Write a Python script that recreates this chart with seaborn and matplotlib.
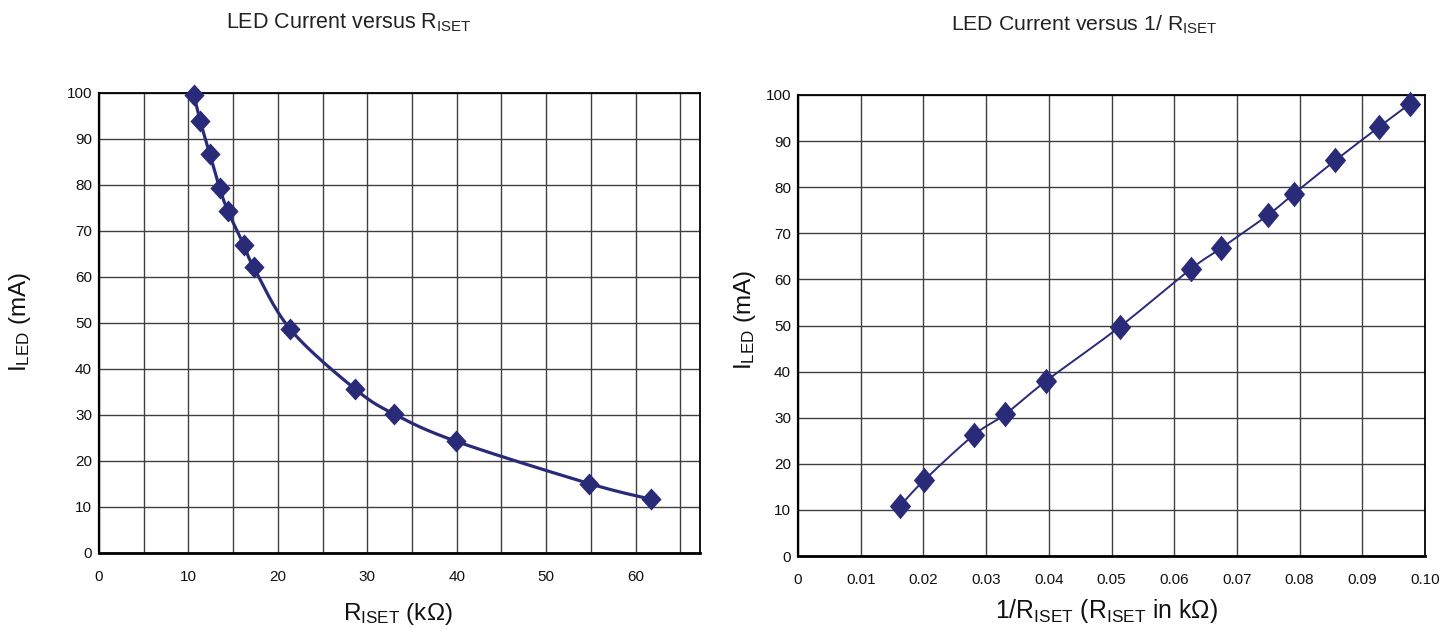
import numpy as np
import matplotlib
matplotlib.use("Agg")
import matplotlib.pyplot as plt
from matplotlib.path import Path
import seaborn as sns

# ---------------- data ----------------
r_iset_k = [10.6, 11.3, 12.4, 13.5, 14.4, 16.2, 17.3, 21.4, 28.6, 33.0, 39.9, 54.8, 61.7]
i_led_vs_r = [99.6, 94.0, 86.7, 79.3, 74.4, 66.9, 62.1, 48.6, 35.7, 30.2, 24.3, 15.1, 11.7]

inv_r_iset = [0.0163, 0.0201, 0.0280, 0.0330, 0.0396, 0.0513, 0.0626, 0.0675,
              0.0749, 0.0791, 0.0857, 0.0926, 0.0976]
i_led_vs_inv = [10.9, 16.4, 26.2, 30.7, 38.0, 49.7, 62.2, 66.8, 73.9, 78.6, 85.8, 93.0, 98.1]

y_ticks = [0, 10, 20, 30, 40, 50, 60, 70, 80, 90, 100]
left_x_ticks = [0, 10, 20, 30, 40, 50, 60]
left_x_minor = [5, 15, 25, 35, 45, 55, 65]
right_x_ticks = [0.0, 0.01, 0.02, 0.03, 0.04, 0.05, 0.06, 0.07, 0.08, 0.09, 0.10]
right_x_labels = ["0", "0.01", "0.02", "0.03", "0.04", "0.05", "0.06", "0.07", "0.08", "0.09", "0.10"]

# ---------------- style ----------------
sns.set_theme(style="white")
plt.rcParams["font.family"] = ["Liberation Sans", "DejaVu Sans"]
plt.rcParams["mathtext.fontset"] = "custom"
plt.rcParams["mathtext.rm"] = "Liberation Sans"
plt.rcParams["mathtext.it"] = "Liberation Sans"
plt.rcParams["mathtext.bf"] = "Liberation Sans"

NAVY = "#2A2B78"
GRID = "#404040"
W, H = 1455, 630


def diamond(wratio):
    return Path([(0, 1), (wratio, 0), (0, -1), (-wratio, 0), (0, 1)],
                [Path.MOVETO, Path.LINETO, Path.LINETO, Path.LINETO, Path.CLOSEPOLY])


fig = plt.figure(figsize=(W / 100, H / 100), dpi=100)
fig.patch.set_facecolor("white")

ax1_px = (99, 553, 601, 460)   # left, bottom(from top), width, height
ax2_px = (798, 556, 627, 461)
ax1 = fig.add_axes([ax1_px[0] / W, 1 - ax1_px[1] / H, ax1_px[2] / W, ax1_px[3] / H])
ax2 = fig.add_axes([ax2_px[0] / W, 1 - ax2_px[1] / H, ax2_px[2] / W, ax2_px[3] / H])


def smooth_curve(x, y, ax_w, ax_h, xr, yr, n=40):
    """Excel-style smoothed line (Catmull-Rom Bezier) computed in screen space."""
    px = np.asarray(x, float) * ax_w / xr
    py = np.asarray(y, float) * ax_h / yr
    P = np.column_stack([px, py])
    Pe = np.vstack([P[0], P, P[-1]])
    segs = []
    t = np.linspace(0, 1, n)[:, None]
    for i in range(len(P) - 1):
        p0, p1, p2, p3 = Pe[i], Pe[i + 1], Pe[i + 2], Pe[i + 3]
        b1 = p1 + (p2 - p0) / 6.0
        b2 = p2 - (p3 - p1) / 6.0
        seg = (1 - t) ** 3 * p1 + 3 * (1 - t) ** 2 * t * b1 + 3 * (1 - t) * t ** 2 * b2 + t ** 3 * p2
        segs.append(seg if i == 0 else seg[1:])
    C = np.vstack(segs)
    return C[:, 0] * xr / ax_w, C[:, 1] * yr / ax_h


def style_axes(ax):
    ax.set_ylim(0, 100)
    ax.set_yticks(y_ticks)
    ax.set_yticklabels([str(v) for v in y_ticks])
    ax.grid(True, which="both", color=GRID, linewidth=1.0)
    ax.set_axisbelow(True)
    for s in ax.spines.values():
        s.set_visible(True)
        s.set_color("black")
        s.set_linewidth(1.3)
    ax.spines["bottom"].set_linewidth(2.0)
    ax.spines["left"].set_linewidth(1.6)
    ax.tick_params(axis="both", which="both", length=0, labelsize=11, colors="#111111")
    ax.tick_params(axis="x", pad=12)
    ax.tick_params(axis="y", pad=5)
    ax.set_xlabel("")
    ax.set_ylabel("")


def add_markers(ax, x, y, size, wratio):
    sns.scatterplot(x=x, y=y, ax=ax, marker=diamond(wratio), s=size, color=NAVY,
                    edgecolor=NAVY, linewidth=0, zorder=4, clip_on=False)


# ---------------- left chart ----------------
xr1 = 67.2
ax1.set_xlim(0, xr1)
sx, sy = smooth_curve(r_iset_k, i_led_vs_r, ax1_px[2], ax1_px[3], xr1, 100)
sns.lineplot(x=sx, y=sy, sort=False, estimator=None, ax=ax1, color=NAVY, linewidth=2.3, zorder=3)
add_markers(ax1, r_iset_k, i_led_vs_r, 250, 0.92)
ax1.set_xticks(left_x_ticks)
ax1.set_xticklabels([str(v) for v in left_x_ticks])
ax1.set_xticks(left_x_minor, minor=True)
style_axes(ax1)
ax1.set_xlim(0, xr1)

# ---------------- right chart ----------------
xr2 = 0.10
ax2.set_xlim(0, xr2)
sx2, sy2 = smooth_curve(inv_r_iset, i_led_vs_inv, ax2_px[2], ax2_px[3], xr2, 100)
sns.lineplot(x=sx2, y=sy2, sort=False, estimator=None, ax=ax2, color=NAVY, linewidth=1.4, zorder=3)
add_markers(ax2, inv_r_iset, i_led_vs_inv, 340, 0.83)
ax2.set_xticks(right_x_ticks)
ax2.set_xticklabels(right_x_labels)
style_axes(ax2)
ax2.set_xlim(0, xr2)

# ---------------- titles & axis labels ----------------
fig.text(349 / W, 1 - 28 / H, r"LED Current versus $\mathregular{R_{ISET}}$",
         ha="center", va="baseline", fontsize=15.5, color="#222222")
fig.text(1084 / W, 1 - 31 / H, r"LED Current versus 1/ $\mathregular{R_{ISET}}$",
         ha="center", va="baseline", fontsize=15.3, color="#222222")

fig.text(398 / W, 1 - 620 / H, r"$\mathregular{R_{ISET}}$ (kΩ)",
         ha="center", va="baseline", fontsize=17.5, color="#111111")
fig.text(1107 / W, 1 - 618 / H, r"1/$\mathregular{R_{ISET}}$ ($\mathregular{R_{ISET}}$ in kΩ)",
         ha="center", va="baseline", fontsize=17.8, color="#111111")

fig.text(20 / W, 1 - 322 / H, r"$\mathregular{I_{LED}}$ (mA)", rotation=90,
         ha="center", va="center", fontsize=17.5, color="#111111")
fig.text(745 / W, 1 - 320 / H, r"$\mathregular{I_{LED}}$ (mA)", rotation=90,
         ha="center", va="center", fontsize=17.5, color="#111111")

fig.savefig("out.png", dpi=100, facecolor="white")
